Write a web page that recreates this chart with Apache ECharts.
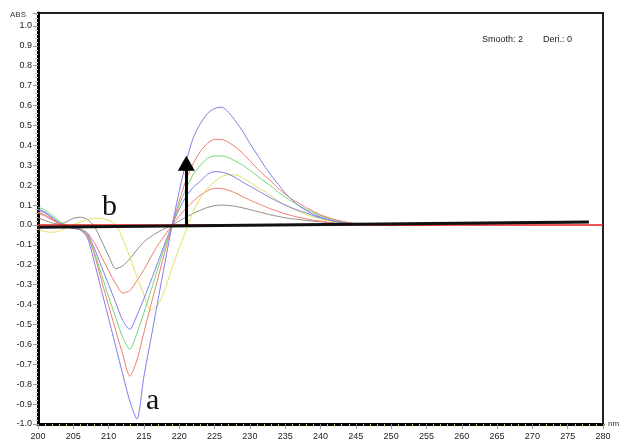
<!DOCTYPE html>
<html>
<head>
<meta charset="utf-8">
<script src="https://cdn.jsdelivr.net/npm/echarts@6/dist/echarts.min.js"></script>
<style>
  html, body { margin: 0; padding: 0; background: #fff; }
  #chart { width: 620px; height: 445px; }
</style>
</head>
<body>
<div id="chart"></div>
<script>
// 导数光谱:七条曲线,200–280 nm,ABS -1.0 ~ 1.0
const wavelength = [200, 201, 202, 203, 204, 205, 206, 207, 208, 209, 210, 211, 212, 213, 214, 215, 216, 217, 218, 219,
  220, 221, 222, 223, 224, 225, 226, 227, 228, 229, 230, 231, 232, 233, 234, 235, 236, 237, 238, 239,
  240, 241, 242, 243, 244, 245, 246, 250, 255, 260, 265, 270, 275, 278];

const blueA = [0.08, 0.065, 0.04, 0.012, -0.008, -0.015, -0.025, -0.065, -0.19, -0.33, -0.47, -0.61, -0.75, -0.885, -0.975, -0.76, -0.57, -0.375, -0.185, 0.0,
  0.17, 0.32, 0.44, 0.51, 0.56, 0.585, 0.592, 0.565, 0.52, 0.47, 0.41, 0.355, 0.30, 0.25, 0.205, 0.16, 0.125, 0.095, 0.072, 0.053,
  0.04, 0.028, 0.019, 0.012, 0.007, 0.004, 0.002, -0.002, 0.001, 0.004, 0.007, 0.01, 0.012, 0.013];
const red1 = [0.065, 0.05, 0.03, 0.008, -0.01, -0.018, -0.025, -0.055, -0.15, -0.28, -0.405, -0.53, -0.65, -0.76, -0.68, -0.54, -0.40, -0.265, -0.13, 0.0,
  0.12, 0.23, 0.31, 0.37, 0.41, 0.43, 0.43, 0.415, 0.39, 0.36, 0.323, 0.285, 0.25, 0.22, 0.185, 0.155, 0.128, 0.108, 0.087, 0.068,
  0.051, 0.038, 0.027, 0.019, 0.012, 0.007, 0.004, -0.003, 0.0, 0.004, 0.007, 0.009, 0.011, 0.012];
const green = [0.09, 0.075, 0.05, 0.02, 0.0, -0.012, -0.02, -0.05, -0.14, -0.25, -0.36, -0.465, -0.565, -0.625, -0.545, -0.44, -0.33, -0.215, -0.105, 0.0,
  0.10, 0.185, 0.255, 0.30, 0.335, 0.347, 0.347, 0.338, 0.32, 0.30, 0.275, 0.248, 0.22, 0.195, 0.165, 0.14, 0.117, 0.097, 0.078, 0.062,
  0.047, 0.035, 0.024, 0.016, 0.01, 0.005, 0.003, -0.002, 0.001, 0.005, 0.008, 0.01, 0.012, 0.013];
const blue2 = [0.075, 0.06, 0.035, 0.01, -0.008, -0.015, -0.022, -0.045, -0.12, -0.21, -0.30, -0.39, -0.48, -0.525, -0.455, -0.37, -0.28, -0.185, -0.09, 0.0,
  0.08, 0.145, 0.19, 0.22, 0.255, 0.268, 0.265, 0.255, 0.237, 0.215, 0.195, 0.175, 0.155, 0.135, 0.117, 0.10, 0.085, 0.072, 0.06, 0.047,
  0.036, 0.027, 0.019, 0.013, 0.008, 0.004, 0.002, -0.003, 0.0, 0.004, 0.007, 0.01, 0.012, 0.013];
const red2 = [0.06, 0.045, 0.025, 0.005, -0.008, -0.012, -0.02, -0.04, -0.09, -0.16, -0.23, -0.295, -0.342, -0.33, -0.28, -0.225, -0.16, -0.10, -0.05, 0.0,
  0.045, 0.085, 0.12, 0.15, 0.172, 0.184, 0.183, 0.174, 0.16, 0.142, 0.125, 0.11, 0.095, 0.08, 0.068, 0.056, 0.046, 0.038, 0.031, 0.024,
  0.019, 0.014, 0.01, 0.007, 0.005, 0.003, 0.002, -0.002, 0.001, 0.004, 0.007, 0.009, 0.011, 0.012];
const greyB = [0.035, 0.022, 0.01, 0.005, 0.015, 0.033, 0.039, 0.028, -0.008, -0.08, -0.155, -0.22, -0.205, -0.17, -0.125, -0.085, -0.058, -0.036, -0.017, 0.0,
  0.02, 0.04, 0.058, 0.074, 0.088, 0.097, 0.10, 0.098, 0.093, 0.086, 0.077, 0.068, 0.059, 0.05, 0.043, 0.036, 0.031, 0.027, 0.023, 0.019,
  0.016, 0.013, 0.01, 0.008, 0.005, 0.003, 0.002, -0.001, 0.002, 0.005, 0.008, 0.01, 0.012, 0.013];
const yellow = [-0.022, -0.033, -0.037, -0.03, -0.015, 0.0, 0.015, 0.027, 0.034, 0.033, 0.022, 0.003, -0.07, -0.16, -0.26, -0.35, -0.43, -0.40, -0.32, -0.215,
  -0.115, -0.025, 0.07, 0.135, 0.185, 0.218, 0.243, 0.252, 0.252, 0.235, 0.214, 0.19, 0.17, 0.145, 0.122, 0.10, 0.082, 0.066, 0.052, 0.04,
  0.03, 0.022, 0.015, 0.01, 0.007, 0.004, 0.003, -0.004, -0.003, 0.003, 0.012, 0.018, 0.014, 0.014];

const zeroLine = [[200, 0], [280, 0]];
const baseLine = [[200, -0.012], [278, 0.015]];
const arrowFrom = [221, 0.0], arrowTo = [221, 0.31];

const xTicks = { min: 200, max: 280, step: 5 };
const yTicks = { min: -1.0, max: 1.065, step: 0.1 };

const curves = [
  { name: "grey", data: greyB, color: "#8c8c84" },
  { name: "red2", data: red2, color: "#f07a6a" },
  { name: "yellow", data: yellow, color: "#e4e060" },
  { name: "blue2", data: blue2, color: "#7d7de8" },
  { name: "green", data: green, color: "#6fd86f" },
  { name: "red1", data: red1, color: "#f07a6a" },
  { name: "blueA", data: blueA, color: "#7d7de8" },
];

const chart = echarts.init(document.getElementById("chart"), null, { renderer: "canvas" });
const labelFont = "'Liberation Sans Narrow', 'Liberation Sans', Arial, sans-serif";

const series = curves.map(c => ({
  name: c.name, type: "line", showSymbol: false, smooth: 0.25, animation: false,
  data: wavelength.map((w, i) => [w, c.data[i]]),
  lineStyle: { width: 1, color: c.color },
  z: 2,
}));

series.push({
  name: "zero", type: "line", showSymbol: false, animation: false, data: zeroLine,
  lineStyle: { width: 1.5, color: "#e41c1c" }, z: 3,
});
series.push({
  name: "base", type: "line", showSymbol: false, animation: false, data: baseLine,
  lineStyle: { width: 3, color: "#111" }, z: 4,
  markLine: {
    silent: true, animation: false, symbol: ["none", "triangle"], symbolSize: [17, 15],
    label: { show: false },
    lineStyle: { type: "solid", width: 3, color: "#000" },
    data: [[{ coord: arrowFrom }, { coord: arrowTo }]],
  },
});

chart.setOption({
  animation: false,
  grid: {
    left: 38, right: 17, top: 13, bottom: 21, outerBoundsMode: "none", containLabel: false,
    show: true, borderColor: "#222", borderWidth: 2, backgroundColor: "#fff",
  },
  xAxis: {
    type: "value", min: xTicks.min, max: xTicks.max, interval: xTicks.step,
    name: "nm", nameLocation: "end", nameGap: 5,
    nameTextStyle: { fontSize: 8, color: "#333", fontFamily: labelFont, padding: [8, 0, 0, 0] },
    axisLine: { show: true, onZero: false, lineStyle: { color: "#000", width: 3 } },
    axisTick: { show: true, length: 5, lineStyle: { color: "#999" } },
    minorTick: { show: true, splitNumber: 5, length: 3, lineStyle: { color: "#d8d4a0" } },
    splitLine: { show: false },
    axisLabel: { fontSize: 9, color: "#222", fontFamily: labelFont, margin: 8 },
  },
  yAxis: {
    type: "value", min: yTicks.min, max: yTicks.max, interval: yTicks.step,
    name: "ABS", nameLocation: "end", nameGap: -6,
    nameTextStyle: { fontSize: 8, color: "#333", fontFamily: labelFont, align: "right", padding: [0, 12, 0, 0] },
    axisLine: { show: true, onZero: false, lineStyle: { color: "#000", width: 3 } },
    axisTick: { show: true, length: 5, lineStyle: { color: "#999" } },
    minorTick: { show: true, splitNumber: 5, length: 3, lineStyle: { color: "#d8d4a0" } },
    splitLine: { show: false },
    axisLabel: {
      fontSize: 9, color: "#222", fontFamily: labelFont, margin: 6,
      formatter: v => (v > 1.001 ? "" : v.toFixed(1)),
    },
  },
  graphic: [
    { type: "text", left: 482, top: 35, style: { text: "Smooth: 2", font: "9px " + labelFont, fill: "#222" } },
    { type: "text", left: 543, top: 35, style: { text: "Deri.: 0", font: "9px " + labelFont, fill: "#222" } },
    { type: "text", left: 102, top: 192, style: { text: "b", font: "30px 'Liberation Serif', 'DejaVu Serif', serif", fill: "#111" } },
    { type: "text", left: 146, top: 386, style: { text: "a", font: "30px 'Liberation Serif', 'DejaVu Serif', serif", fill: "#111" } },
  ],
  series,
});
</script>
</body>
</html>
